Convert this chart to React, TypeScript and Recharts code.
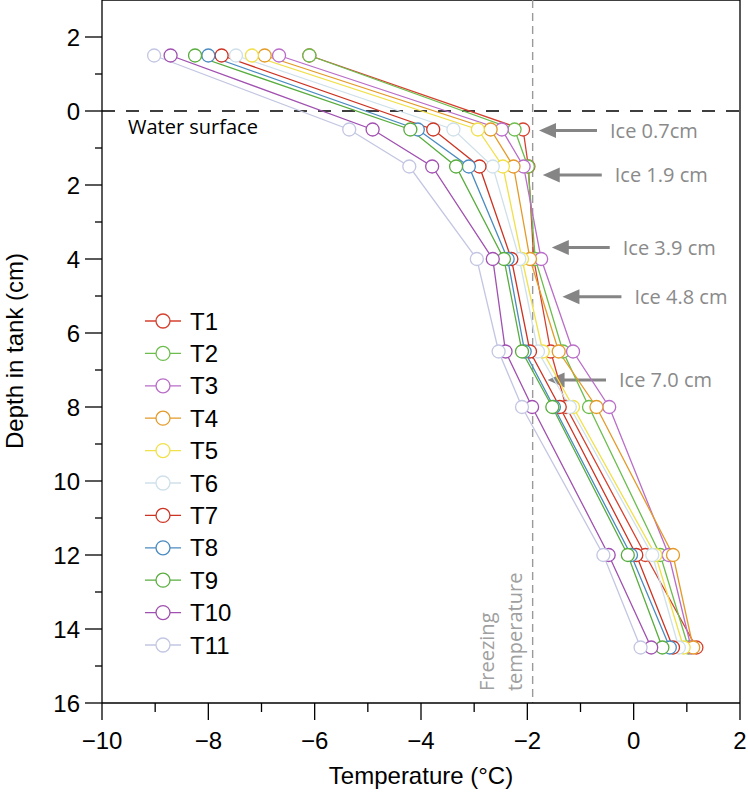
import { LineChart, Line, XAxis, YAxis, ReferenceLine } from "recharts"

// depth (cm) of each thermistor, negative = above the water surface
const depths = [-1.5, 0.5, 1.5, 4, 6.5, 8, 12, 14.5]

const seriesNames = ["T1", "T2", "T3", "T4", "T5", "T6", "T7", "T8", "T9", "T10", "T11"]

const t1 = [-6.1, -2.08, -1.98, -1.88, -1.56, -1.27, 0.22, 1.18]
const t2 = [-6.1, -2.24, -1.99, -1.85, -1.33, -0.84, 0.5, 1.03]
const t3 = [-6.67, -2.48, -2.07, -1.74, -1.14, -0.46, 0.66, 1.08]
const t4 = [-6.94, -2.69, -2.26, -1.95, -1.41, -0.7, 0.74, 1.12]
const t5 = [-7.18, -2.93, -2.46, -2.1, -1.71, -1.14, 0.41, 0.94]
const t6 = [-7.48, -3.39, -2.65, -2.15, -1.8, -1.2, 0.35, 0.85]
const t7 = [-7.75, -3.77, -2.9, -2.3, -1.95, -1.39, 0.05, 0.74]
const t8 = [-8.0, -4.06, -3.1, -2.37, -2.05, -1.5, -0.05, 0.68]
const t9 = [-8.25, -4.2, -3.34, -2.44, -2.1, -1.53, -0.11, 0.54]
const t10 = [-8.71, -4.91, -3.79, -2.65, -2.41, -1.91, -0.47, 0.33]
const t11 = [-9.02, -5.35, -4.22, -2.95, -2.54, -2.1, -0.57, 0.13]

const seriesValues = [t1, t2, t3, t4, t5, t6, t7, t8, t9, t10, t11]

const colors = [
  "#d5412f", "#6cbd4e", "#b96dc8", "#e39a28", "#f0e04a", "#cfe0ea",
  "#cc3322", "#4b8bc0", "#58ad3e", "#a050b0", "#c3c6e2",
]

const xTicks = [-10, -9, -8, -7, -6, -5, -4, -3, -2, -1, 0, 1, 2]
const yTicks = [-2, -1, 0, 1, 2, 3, 4, 5, 6, 7, 8, 9, 10, 11, 12, 13, 14, 15, 16]

const freezingTemp = -1.9
const surfaceDepth = 0

const iceLabels = ["Ice 0.7cm", "Ice 1.9 cm", "Ice 3.9 cm", "Ice 4.8 cm", "Ice 7.0 cm"]
const iceDepths = [0.53, 1.73, 3.69, 5.02, 7.27]
const iceTips = [-1.78, -1.71, -1.54, -1.34, -1.62]
const iceTails = [-0.69, -0.6, -0.45, -0.23, -0.52]

const data = depths.map((depth, i) => {
  const row: Record<string, number> = { depth }
  seriesNames.forEach((name, j) => {
    row[name] = seriesValues[j][i]
  })
  return row
})

const tickFont = "'Liberation Sans', Arial, sans-serif"
const noteFont = "'Open Sans', 'Noto Sans', sans-serif"
const fmt = (v: number) => (v < 0 ? "\u2212" + Math.abs(v) : String(v))

const XTick = ({ x, y, payload }: any) => {
  const major = payload.value % 2 === 0
  return (
    <g>
      <line x1={x} x2={x} y1={y} y2={y + (major ? 17 : 9)} stroke="#000" strokeWidth={1.3} />
      {major && (
        <text x={x} y={y + 46} textAnchor="middle" fontSize={24} fontFamily={tickFont} fill="#000">
          {fmt(payload.value)}
        </text>
      )}
    </g>
  )
}

const YTick = ({ x, y, payload }: any) => {
  const major = payload.value % 2 === 0
  return (
    <g>
      <line x1={x - (major ? 17 : 7)} x2={x} y1={y} y2={y} stroke="#000" strokeWidth={1.3} />
      {major && (
        <text x={x - 22} y={y + 8.5} textAnchor="end" fontSize={24} fontFamily={tickFont} fill="#000">
          {Math.abs(payload.value)}
        </text>
      )}
    </g>
  )
}

const XTitle = () => (
  <text x={421} y={784} textAnchor="middle" fontSize={24} fontFamily={tickFont} fill="#000">
    Temperature (°C)
  </text>
)

const YTitle = () => (
  <text x={23} y={351} transform="rotate(-90, 23, 351)" textAnchor="middle" fontSize={24} fontFamily={tickFont} fill="#000">
    Depth in tank (cm)
  </text>
)

const arrowShape = (label: string) => (props: any) => {
  const { x1, y1, x2 } = props
  const head = 17
  return (
    <g>
      <line x1={x1} y1={y1} x2={x2 + head - 2} y2={y1} stroke="#858585" strokeWidth={3} />
      <polygon points={`${x2},${y1} ${x2 + head},${y1 - 7.5} ${x2 + head},${y1 + 7.5}`} fill="#858585" />
      <text x={x1 + 13} y={y1 + 7} fontSize={20} fontFamily={noteFont} fill="#8a8a8a">
        {label}
      </text>
    </g>
  )
}

const freezingShape = (props: any) => {
  const { x1, y1, y2 } = props
  const bottom = Math.max(y1, y2)
  const top = Math.min(y1, y2)
  return (
    <g>
      <line x1={x1} x2={x1} y1={top} y2={bottom} stroke="#9a9a9a" strokeWidth={1.4} strokeDasharray="8 5" />
      <text x={x1 - 39} y={bottom - 12} transform={`rotate(-90, ${x1 - 39}, ${bottom - 12})`} fontSize={20} fontFamily={noteFont} fill="#a0a0a0">
        Freezing
      </text>
      <text x={x1 - 11} y={bottom - 12} transform={`rotate(-90, ${x1 - 11}, ${bottom - 12})`} fontSize={20} fontFamily={noteFont} fill="#a0a0a0">
        temperature
      </text>
    </g>
  )
}

const surfaceShape = (props: any) => {
  const { x1, x2, y1 } = props
  const left = Math.min(x1, x2)
  return (
    <g>
      <line x1={x1} x2={x2} y1={y1} y2={y1} stroke="#000" strokeWidth={1.3} strokeDasharray="13 11" />
      <text x={left + 26} y={y1 + 23} fontSize={20} fontFamily={noteFont} fill="#000">
        Water surface
      </text>
    </g>
  )
}

const Legend = () => (
  <svg width={748} height={797} style={{ position: "absolute", left: 0, top: 0, pointerEvents: "none" }}>
    {seriesNames.map((name, i) => {
      const cy = 321 + i * 32.4
      return (
        <g key={name}>
          <line x1={145} x2={181} y1={cy} y2={cy} stroke={colors[i]} strokeWidth={1.3} />
          <circle cx={163} cy={cy} r={7} fill="#fff" stroke={colors[i]} strokeWidth={1.3} />
          <text x={190} y={cy + 8.5} fontSize={24} fontFamily={tickFont} fill="#000">
            {name}
          </text>
        </g>
      )
    })}
  </svg>
)

export default function App() {
  return (
    <div style={{ position: "absolute", left: 0, top: 0, width: 748, height: 797, background: "#fff" }}>
      <LineChart width={748} height={797} data={data} layout="vertical" margin={{ top: 0, right: 8, bottom: 0, left: 0 }}>
        <XAxis
          type="number"
          domain={[-10, 2]}
          ticks={xTicks}
          interval={0}
          allowDataOverflow
          height={94}
          tickSize={0}
          tickMargin={0}
          tickLine={false}
          tick={<XTick />}
          axisLine={{ stroke: "#000", strokeWidth: 1.3 }}
          label={<XTitle />}
        />
        <YAxis
          type="number"
          dataKey="depth"
          domain={[-3, 16]}
          ticks={yTicks}
          interval={0}
          allowDataOverflow
          width={102}
          tickSize={0}
          tickMargin={0}
          tickLine={false}
          tick={<YTick />}
          axisLine={{ stroke: "#000", strokeWidth: 1.3 }}
          label={<YTitle />}
        />
        <ReferenceLine x={2} stroke="#000" strokeWidth={1.3} />
        <ReferenceLine y={-3} stroke="#000" strokeWidth={1.3} />
        <ReferenceLine y={surfaceDepth} shape={surfaceShape} />
        <ReferenceLine x={freezingTemp} shape={freezingShape} />
        {iceLabels.map((label, i) => (
          <ReferenceLine
            key={label}
            segment={[{ x: iceTails[i], y: iceDepths[i] }, { x: iceTips[i], y: iceDepths[i] }]}
            shape={arrowShape(label)}
          />
        ))}
        {seriesNames.map((name, i) => (
          <Line
            key={name}
            dataKey={name}
            stroke={colors[i]}
            strokeWidth={1.3}
            dot={{ r: 6.5, fill: "#fff", stroke: colors[i], strokeWidth: 1.3 }}
            isAnimationActive={false}
          />
        ))}
      </LineChart>
      <Legend />
    </div>
  )
}
